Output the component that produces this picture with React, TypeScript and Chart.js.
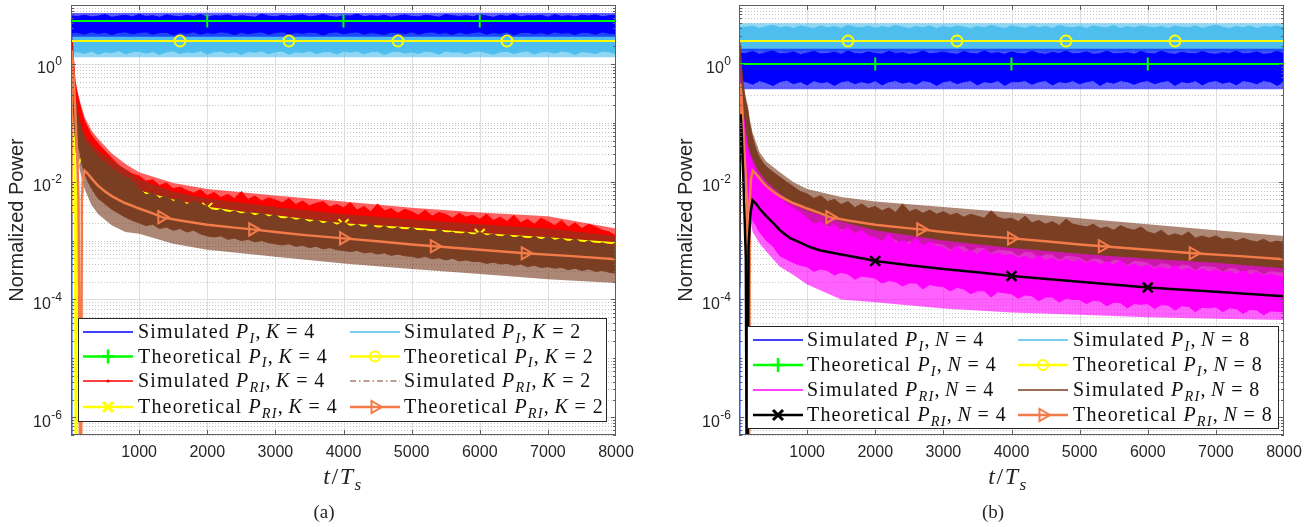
import React, { useEffect, useRef } from 'react';
import { Chart, registerables } from 'chart.js';

Chart.register(...registerables);

// ---------------- axes ----------------
const X_MIN = 0;
const X_MAX = 8000;
const Y_MIN = 5e-7;
const Y_MAX = 10;
const X_TICKS = [0, 1000, 2000, 3000, 4000, 5000, 6000, 7000, 8000];
const Y_MAJOR_EXP = [-6, -4, -2, 0];
const FLOOR = 1e-9; // power ~ 0 (below the axis)

// ---------------- time grids ----------------
const T_FLAT_HEAD = [0, 10];
const T_DEC_HEAD = [0, 10, 20, 30, 45, 60, 80, 100, 130, 160, 200, 250, 300, 350, 400, 500, 600, 700, 800, 900];
const T_FLAT_SPK = [10, 2000, 4000, 6000, 8000];
const T_DEC_SPK = [0, 10, 20, 30, 45, 60, 80, 100, 130, 160, 200, 300, 400, 600, 800, 1000, 1500, 2000, 3000, 4000, 5000, 6000, 7000, 8000];
const T_PI_THEORY = [0, 1600, 2000, 3200, 4000, 4800, 6000, 6400, 8000];
const T_OR_A = [0, 15, 30, 50, 70, 90, 110, 143, 160, 175, 200, 250, 300, 350, 400, 500, 600, 700, 800, 900, 1000, 1200, 1333, 1600, 2000, 2400, 2667, 3000, 3400, 4000, 4500, 5000, 5333, 6000, 6667, 7300, 8000];
const T_OR_B = [0, 20, 40, 60, 80, 100, 120, 143, 160, 175, 200, 250, 300, 350, 400, 500, 600, 700, 800, 900, 1000, 1200, 1333, 1600, 2000, 2400, 2667, 3000, 3400, 4000, 4500, 5000, 5333, 6000, 6667, 7300, 8000];
const T_YT_A = [0, 12, 25, 40, 55, 70, 85, 110, 140, 200, 300, 400, 600, 800, 1000, 1500, 2000, 2500, 3000, 3500, 4000, 5000, 6000, 7000, 8000];
const T_BK_B = [0, 15, 25, 40, 60, 80, 100, 120, 140, 170, 200, 250, 300, 400, 500, 600, 750, 900, 1050, 1200, 1500, 1800, 2000, 2500, 3000, 3500, 4000, 5000, 6000, 7000, 8000];

// marker positions
const MK_PLUS = [2000, 4000, 6000];
const MK_CIRC = [1600, 3200, 4800, 6400];
const MK_TRI = [1333, 2667, 4000, 5333, 6667];
const MK_X = [2000, 4000, 6000];

// ---------------- panel (a) values ----------------
const A_BLUE_UP = [FLOOR, 6.5,
  6.4, 6.7, 6.3, 6.5, 6.9, 6.2, 6.5, 6.7, 6.3, 6.9,
  6.4, 6.6, 6.2, 6.8, 6.5, 6.3, 6.7, 6.4, 6.9, 6.2,
  6.6, 6.5, 6.8, 6.3, 6.6, 6.4, 6.2, 7.0, 6.5, 6.3,
  6.7, 6.4, 6.6, 6.8, 6.3, 6.5, 6.9, 6.4, 6.2, 6.6,
  6.5, 7.0, 6.3, 6.6, 6.4, 6.7, 6.2, 6.5, 6.8, 6.4,
  6.3, 6.7, 6.5, 6.2, 6.9, 6.6, 6.4, 6.6, 6.3, 6.8,
  6.5, 6.2, 6.7, 6.4, 6.9, 6.3, 6.6, 6.5, 6.7, 6.2,
  6.9, 6.4, 6.6, 6.3, 6.7, 6.5, 6.8, 6.3, 6.6, 6.7];
const A_BLUE_LO = [FLOOR, 3.4,
  3.4, 3.2, 3.5, 3.3, 3.45, 3.15, 3.4, 3.5, 3.25, 3.4,
  3.5, 3.2, 3.4, 3.45, 3.1, 3.4, 3.3, 3.5, 3.2, 3.4,
  3.3, 3.5, 3.4, 3.15, 3.45, 3.25, 3.4, 3.5, 3.2, 3.4,
  3.5, 3.2, 3.4, 3.3, 3.45, 3.4, 3.1, 3.4, 3.5, 3.25,
  3.4, 3.5, 3.2, 3.4, 3.3, 3.15, 3.45, 3.4, 3.25, 3.5,
  3.2, 3.4, 3.5, 3.3, 3.4, 3.15, 3.45, 3.25, 3.4, 3.5,
  3.2, 3.4, 3.3, 3.5, 3.1, 3.4, 3.45, 3.25, 3.4, 3.2,
  3.5, 3.3, 3.4, 3.15, 3.45, 3.4, 3.2, 3.5, 3.3, 3.25];
const A_BLUE_SPK_UP = [7.3, 7.4, 7.3, 7.4, 7.3];
const A_BLUE_SPK_LO = [2.9, 2.9, 2.9, 2.9, 2.9];
const A_LBLUE_UP = [FLOOR, 4.0,
  4.0, 3.8, 4.2, 3.9, 4.1, 3.8, 4.0, 4.3, 3.9, 4.0,
  3.8, 4.1, 3.9, 4.2, 4.0, 3.8, 4.1, 3.9, 4.0, 4.2,
  3.9, 4.0, 3.8, 4.1, 4.2, 3.9, 4.0, 3.8, 4.1, 3.9,
  4.2, 3.9, 4.0, 3.8, 4.1, 4.0, 3.9, 4.3, 3.8, 4.0,
  4.1, 3.9, 4.0, 4.2, 3.8, 4.0, 4.1, 3.9, 4.2, 3.8,
  4.0, 4.1, 3.9, 4.0, 4.3, 3.8, 4.0, 4.1, 3.9, 4.0,
  3.8, 4.2, 4.0, 3.9, 4.1, 4.0, 3.8, 4.2, 3.9, 4.1,
  4.0, 3.9, 4.2, 3.8, 4.0, 4.1, 3.9, 4.0, 4.2, 3.9];
const A_LBLUE_LO = [FLOOR, 1.6,
  1.6, 1.5, 1.65, 1.46, 1.6, 1.55, 1.68, 1.48, 1.6, 1.64,
  1.52, 1.62, 1.45, 1.6, 1.66, 1.5, 1.6, 1.55, 1.67, 1.47,
  1.6, 1.64, 1.52, 1.6, 1.45, 1.62, 1.58, 1.66, 1.49, 1.6,
  1.65, 1.46, 1.6, 1.55, 1.67, 1.5, 1.6, 1.62, 1.47, 1.64,
  1.58, 1.66, 1.48, 1.6, 1.62, 1.45, 1.6, 1.65, 1.52, 1.6,
  1.5, 1.64, 1.6, 1.46, 1.66, 1.58, 1.6, 1.48, 1.62, 1.65,
  1.55, 1.46, 1.6, 1.64, 1.5, 1.6, 1.66, 1.47, 1.6, 1.62,
  1.52, 1.65, 1.6, 1.45, 1.62, 1.58, 1.5, 1.64, 1.6, 1.48];
const A_LBLUE_SPK_UP = [4.2, 4.2, 4.2, 4.2, 4.2];
const A_LBLUE_SPK_LO = [1.3, 1.3, 1.3, 1.3, 1.3];
const A_RED_UP = [
  2.0, 2.4, 2.2, 1.6, 0.9, 0.5, 0.36, 0.28, 0.2, 0.15, 0.105, 0.08, 0.062, 0.052, 0.044, 0.033, 0.025, 0.019, 0.016, 0.0135,
  0.0125, 0.0102, 0.0108, 0.0086, 0.0095, 0.0076, 0.0081, 0.0071, 0.0064, 0.0073,
  0.0058, 0.0066, 0.0054, 0.0061, 0.0052, 0.0068, 0.005, 0.0057, 0.0047, 0.0053,
  0.0049, 0.0044, 0.0052, 0.0041, 0.0047, 0.0039, 0.0043, 0.0046, 0.0037, 0.0041,
  0.0036, 0.0044, 0.0033, 0.0038, 0.0031, 0.0042, 0.0032, 0.0035, 0.0029, 0.0034,
  0.0031, 0.0027, 0.0033, 0.0026, 0.003, 0.0028, 0.0024, 0.0029, 0.0025, 0.0027,
  0.0023, 0.0028, 0.0022, 0.0025, 0.0021, 0.0027, 0.002, 0.0023, 0.0019, 0.0024,
  0.0021, 0.0018, 0.0022, 0.0017, 0.002, 0.0016, 0.0019, 0.0017, 0.0015, 0.0014,
  0.0012];
const A_RED_LO = [
  0.3, 0.8, 0.6, 0.35, 0.15, 0.09, 0.07, 0.06, 0.05, 0.035, 0.025, 0.018, 0.014, 0.011, 0.0095, 0.0075, 0.006, 0.005, 0.0043, 0.0038,
  0.0032, 0.0029, 0.0026, 0.0024, 0.0022, 0.0021, 0.002, 0.0019, 0.0018, 0.0017,
  0.00167, 0.0016, 0.00155, 0.0015, 0.0015, 0.00145, 0.0014, 0.0014, 0.00135, 0.0013,
  0.00126, 0.0012, 0.00118, 0.00115, 0.00112, 0.0011, 0.00106, 0.00103, 0.001, 0.00099,
  0.00098, 0.00096, 0.00094, 0.00092, 0.0009, 0.00087, 0.00085, 0.00083, 0.00081, 0.00079,
  0.00077, 0.00076, 0.00074, 0.00072, 0.00071, 0.0007, 0.00068, 0.00067, 0.00065, 0.00064,
  0.00063, 0.00062, 0.0006, 0.00059, 0.00058, 0.00057, 0.00056, 0.00055, 0.00054, 0.00053,
  0.00052, 0.00051, 0.0005, 0.0005, 0.00049, 0.00048, 0.00047, 0.00046, 0.00045, 0.00044,
  0.00043];
const A_RED_SPK_UP = [2.6, 2.8, 2.6, 1.9, 1.1, 0.6, 0.43, 0.33, 0.24, 0.18, 0.125, 0.075, 0.053, 0.03, 0.02, 0.0145, 0.0095, 0.0075, 0.0058, 0.0046, 0.0036, 0.003, 0.0026, 0.0016];
const A_RED_SPK_LO = [0.3, 0.8, 0.6, 0.35, 0.15, 0.09, 0.07, 0.06, 0.05, 0.035, 0.025, 0.014, 0.0095, 0.006, 0.0043, 0.0032, 0.0021, 0.00167, 0.00126, 0.00098, 0.00077, 0.00063, 0.00052, 0.00043];
const A_BROWN_UP = [
  1.5, 1.8, 1.4, 1.0, 0.5, 0.28, 0.18, 0.13, 0.095, 0.07, 0.05, 0.042, 0.036, 0.031, 0.026, 0.021, 0.017, 0.014, 0.012, 0.0102,
  0.0076, 0.006, 0.0065, 0.0052, 0.0058, 0.0046, 0.0052, 0.0041, 0.0047, 0.0042,
  0.0038, 0.0031, 0.0034, 0.0029, 0.0032, 0.0028, 0.0031, 0.0026, 0.003, 0.0025,
  0.0028, 0.0022, 0.0025, 0.0022, 0.0024, 0.002, 0.0023, 0.0019, 0.0022, 0.0018,
  0.0021, 0.0017, 0.0019, 0.0016, 0.002, 0.0015, 0.0018, 0.0015, 0.0017, 0.0014,
  0.0017, 0.0014, 0.0015, 0.0013, 0.0016, 0.0013, 0.0014, 0.0012, 0.0014, 0.0012,
  0.0014, 0.0012, 0.0013, 0.0011, 0.0013, 0.0011, 0.0012, 0.001, 0.0012, 0.001,
  0.0012, 0.001, 0.0011, 0.00092, 0.0011, 0.00088, 0.001, 0.00085, 0.00092, 0.00083,
  0.00077];
const A_BROWN_LO = [
  0.2, 0.5, 0.4, 0.25, 0.1, 0.06, 0.045, 0.04, 0.032, 0.02, 0.014, 0.01, 0.0078, 0.0063, 0.0052, 0.0042, 0.0034, 0.0029, 0.0025, 0.0022,
  0.002, 0.0018, 0.0019, 0.0016, 0.0017, 0.0015, 0.0016, 0.0014, 0.0015, 0.0013,
  0.0012, 0.00115, 0.0012, 0.00105, 0.0011, 0.001, 0.00105, 0.00095, 0.001, 0.00092,
  0.00088, 0.00084, 0.00088, 0.0008, 0.00083, 0.00076, 0.0008, 0.00072, 0.00076, 0.0007,
  0.00068, 0.00065, 0.00068, 0.00062, 0.00064, 0.00059, 0.00062, 0.00056, 0.00059, 0.00055,
  0.00054, 0.00051, 0.00054, 0.00049, 0.00051, 0.00047, 0.0005, 0.00045, 0.00047, 0.00044,
  0.00044, 0.00041, 0.00043, 0.0004, 0.00041, 0.00038, 0.0004, 0.00036, 0.00038, 0.00035,
  0.00036, 0.00034, 0.00035, 0.00032, 0.00034, 0.00031, 0.00033, 0.0003, 0.00031, 0.00029,
  0.00028];
const A_BROWN_SPK_UP = [1.9, 2.2, 1.7, 1.2, 0.6, 0.34, 0.22, 0.16, 0.115, 0.085, 0.062, 0.045, 0.034, 0.023, 0.016, 0.011, 0.0068, 0.0052, 0.0037, 0.0028, 0.0023, 0.0019, 0.0016, 0.0012];
const A_BROWN_SPK_LO = [0.12, 0.3, 0.25, 0.15, 0.06, 0.035, 0.026, 0.022, 0.016, 0.011, 0.0075, 0.004, 0.0028, 0.0018, 0.0014, 0.0013, 0.00088, 0.0007, 0.00053, 0.00041, 0.00033, 0.00027, 0.00022, 0.00019];
const A_TH_PI_K4 = [5.35, 5.35, 5.35, 5.35, 5.35, 5.35, 5.35, 5.35, 5.35];
const A_TH_PI_K2 = [2.45, 2.45, 2.45, 2.45, 2.45, 2.45, 2.45, 2.45, 2.45];
const A_TH_PRI_K4 = [0.003, 1.0, 0.5, 0.1, 0.01, FLOOR, 0.008, 0.02, 0.024, 0.021, 0.017, 0.014, 0.0105, 0.0083, 0.0068, 0.0048, 0.0036, 0.003, 0.0026, 0.0022, 0.0019, 0.0016, 0.0013, 0.0011, 0.0009];
const A_TH_PRI_K2 = [0.001, 1.7, 0.9, 0.35, 0.1, 0.03, 0.005, FLOOR, 0.005, 0.011, 0.0154, 0.0135, 0.0115, 0.0098, 0.0085, 0.0068, 0.0057, 0.0049, 0.0043, 0.0039, 0.0035, 0.0029, 0.0025, 0.0022, 0.00185, 0.00166, 0.00155, 0.0014, 0.00125, 0.00109, 0.00097, 0.00086, 0.0008, 0.0007, 0.00061, 0.00055, 0.00048];

// ---------------- panel (b) values ----------------
const B_LBLUE_UP = [FLOOR, 4.2,
  4.2, 4.4, 4.0, 4.3, 4.5, 4.1, 4.3, 4.0, 4.4, 4.2,
  4.0, 4.4, 4.1, 4.3, 4.0, 4.5, 4.2, 4.1, 4.4, 4.0,
  4.3, 4.1, 4.5, 4.2, 4.0, 4.3, 4.1, 4.4, 4.0, 4.3,
  4.1, 4.4, 4.2, 4.0, 4.3, 4.1, 4.5, 4.2, 4.0, 4.4,
  4.2, 4.0, 4.4, 4.1, 4.3, 4.0, 4.5, 4.2, 4.1, 4.3,
  4.0, 4.4, 4.2, 4.1, 4.5, 4.0, 4.3, 4.1, 4.4, 4.2,
  4.1, 4.3, 4.0, 4.4, 4.2, 4.1, 4.4, 4.0, 4.3, 4.5,
  4.2, 4.0, 4.3, 4.1, 4.4, 4.0, 4.3, 4.2, 4.4, 4.1];
const B_LBLUE_LO = [FLOOR, 1.72,
  1.72, 1.64, 1.75, 1.6, 1.7, 1.74, 1.62, 1.72, 1.68, 1.76,
  1.62, 1.72, 1.7, 1.65, 1.75, 1.6, 1.72, 1.7, 1.74, 1.64,
  1.72, 1.68, 1.61, 1.74, 1.7, 1.72, 1.64, 1.75, 1.7, 1.6,
  1.72, 1.74, 1.65, 1.7, 1.72, 1.62, 1.74, 1.7, 1.68, 1.75,
  1.63, 1.72, 1.7, 1.74, 1.6, 1.72, 1.7, 1.66, 1.75, 1.7,
  1.72, 1.62, 1.74, 1.7, 1.72, 1.65, 1.7, 1.75, 1.6, 1.72,
  1.7, 1.74, 1.64, 1.72, 1.7, 1.75, 1.62, 1.72, 1.7, 1.67,
  1.74, 1.7, 1.6, 1.72, 1.75, 1.65, 1.7, 1.72, 1.63, 1.74];
const B_LBLUE_SPK_UP = [4.9, 4.9, 4.9, 4.9, 4.9];
const B_LBLUE_SPK_LO = [1.55, 1.55, 1.55, 1.55, 1.55];
const B_BLUE_UP = [FLOOR, 1.5,
  1.5, 1.62, 1.46, 1.55, 1.65, 1.48, 1.5, 1.6, 1.45, 1.52,
  1.63, 1.48, 1.5, 1.58, 1.46, 1.65, 1.5, 1.48, 1.6, 1.5,
  1.47, 1.63, 1.5, 1.55, 1.46, 1.5, 1.65, 1.48, 1.52, 1.58,
  1.5, 1.46, 1.62, 1.5, 1.48, 1.65, 1.5, 1.55, 1.46, 1.6,
  1.5, 1.48, 1.64, 1.5, 1.46, 1.57, 1.5, 1.65, 1.48, 1.5,
  1.6, 1.46, 1.5, 1.64, 1.48, 1.5, 1.55, 1.46, 1.62, 1.5,
  1.48, 1.65, 1.5, 1.46, 1.58, 1.5, 1.48, 1.63, 1.5, 1.46,
  1.55, 1.5, 1.64, 1.48, 1.5, 1.6, 1.46, 1.5, 1.63, 1.48];
const B_BLUE_LO = [FLOOR, 0.5,
  0.5, 0.45, 0.52, 0.48, 0.43, 0.5, 0.53, 0.46, 0.5, 0.44,
  0.52, 0.48, 0.5, 0.43, 0.5, 0.52, 0.46, 0.5, 0.47, 0.52,
  0.44, 0.5, 0.52, 0.47, 0.5, 0.45, 0.52, 0.5, 0.43, 0.5,
  0.52, 0.46, 0.5, 0.52, 0.44, 0.5, 0.48, 0.52, 0.43, 0.5,
  0.5, 0.52, 0.45, 0.5, 0.52, 0.44, 0.5, 0.48, 0.52, 0.46,
  0.5, 0.52, 0.43, 0.5, 0.47, 0.52, 0.5, 0.45, 0.5, 0.52,
  0.46, 0.5, 0.52, 0.43, 0.5, 0.48, 0.52, 0.44, 0.5, 0.52,
  0.47, 0.5, 0.44, 0.52, 0.5, 0.46, 0.52, 0.5, 0.43, 0.5];
const B_BLUE_SPK_UP = [1.8, 1.8, 1.8, 1.8, 1.8];
const B_BLUE_SPK_LO = [0.37, 0.37, 0.37, 0.37, 0.37];
const B_BROWN_UP = [
  2.0, 2.3, 1.8, 1.2, 0.7, 0.45, 0.3, 0.22, 0.16, 0.09, 0.055, 0.035, 0.026, 0.021, 0.018, 0.0145, 0.012, 0.0098, 0.0082, 0.0068,
  0.0062, 0.0052, 0.0058, 0.0046, 0.005, 0.0041, 0.0046, 0.0036, 0.0042, 0.0035,
  0.0038, 0.0032, 0.0036, 0.003, 0.0042, 0.0031, 0.0034, 0.0029, 0.0033, 0.0028,
  0.0031, 0.0027, 0.0029, 0.0025, 0.0028, 0.0026, 0.0024, 0.0032, 0.0025, 0.0023,
  0.0024, 0.0021, 0.0026, 0.002, 0.0022, 0.0019, 0.0021, 0.0018, 0.0023, 0.0019,
  0.0018, 0.0017, 0.0019, 0.0016, 0.0017, 0.0015, 0.0018, 0.0016, 0.0015, 0.0017,
  0.0014, 0.0013, 0.0015, 0.0012, 0.0013, 0.0012, 0.0014, 0.0011, 0.0012, 0.0011,
  0.0012, 0.00105, 0.0011, 0.00098, 0.0011, 0.001, 0.00095, 0.00105, 0.00092, 0.00098,
  0.0009];
const B_BROWN_LO = [
  0.3, 0.7, 0.6, 0.4, 0.2, 0.1, 0.06, 0.04, 0.025, 0.018, 0.013, 0.01, 0.0085, 0.0072, 0.0062, 0.0048, 0.004, 0.0034, 0.003, 0.0026,
  0.0021, 0.0018, 0.0019, 0.0018, 0.0015, 0.0016, 0.0015, 0.0013, 0.0013, 0.0012,
  0.00115, 0.00098, 0.0011, 0.00105, 0.00088, 0.001, 0.00098, 0.00082, 0.00093, 0.0009,
  0.00087, 0.00072, 0.00084, 0.00082, 0.00066, 0.00078, 0.00076, 0.00062, 0.00072, 0.0007,
  0.00068, 0.00056, 0.00066, 0.00064, 0.00052, 0.0006, 0.00059, 0.00048, 0.00056, 0.00055,
  0.00053, 0.00044, 0.00051, 0.0005, 0.00041, 0.00048, 0.00047, 0.00039, 0.00046, 0.00045,
  0.00043, 0.00036, 0.00042, 0.00041, 0.00034, 0.0004, 0.00039, 0.00032, 0.00038, 0.00037,
  0.00036, 0.0003, 0.00035, 0.00034, 0.00028, 0.00033, 0.00032, 0.00027, 0.00031, 0.0003,
  0.00029];
const B_BROWN_SPK_UP = [2.5, 2.8, 2.2, 1.5, 0.85, 0.55, 0.37, 0.27, 0.2, 0.11, 0.068, 0.032, 0.022, 0.0145, 0.0098, 0.0075, 0.0055, 0.0046, 0.0037, 0.003, 0.0024, 0.0019, 0.0015, 0.0012];
const B_BROWN_SPK_LO = [0.15, 0.4, 0.35, 0.22, 0.1, 0.05, 0.03, 0.02, 0.013, 0.009, 0.0065, 0.0042, 0.003, 0.002, 0.0015, 0.0012, 0.00082, 0.00065, 0.00049, 0.00038, 0.0003, 0.00025, 0.0002, 0.00017];
const B_MAG_UP = [
  1.0, 0.6, 0.45, 0.35, 0.22, 0.15, 0.09, 0.06, 0.035, 0.027, 0.02, 0.015, 0.012, 0.0098, 0.0085, 0.0068, 0.0052, 0.0042, 0.0035, 0.003,
  0.0024, 0.0019, 0.0021, 0.0016, 0.0019, 0.0014, 0.0017, 0.0013, 0.0015, 0.0012,
  0.0011, 0.00095, 0.0013, 0.0009, 0.001, 0.00085, 0.0011, 0.00082, 0.00095, 0.0008,
  0.00076, 0.00065, 0.0008, 0.00062, 0.00068, 0.00058, 0.00072, 0.00056, 0.00062, 0.00055,
  0.00058, 0.0005, 0.00054, 0.00047, 0.00056, 0.00046, 0.0005, 0.00044, 0.00048, 0.00043,
  0.00047, 0.00041, 0.00045, 0.00039, 0.00044, 0.00038, 0.00046, 0.00036, 0.0004, 0.00035,
  0.00038, 0.00033, 0.00036, 0.00032, 0.00038, 0.00031, 0.00034, 0.0003, 0.00033, 0.00029,
  0.00032, 0.00028, 0.0003, 0.00027, 0.00031, 0.00026, 0.00029, 0.00025, 0.00027, 0.00025,
  0.00024];
const B_MAG_LO = [
  0.05, 0.15, 0.12, 0.07, 0.03, 0.02, 0.014, 0.01, 0.006, 0.004, 0.0022, 0.0018, 0.0014, 0.0012, 0.001, 0.0008, 0.00055, 0.00048, 0.00042, 0.00038,
  0.00036, 0.0003, 0.00033, 0.00031, 0.00026, 0.00029, 0.00027, 0.00022, 0.00025, 0.00024,
  0.00023, 0.00019, 0.00021, 0.0002, 0.00017, 0.00019, 0.00019, 0.00015, 0.00018, 0.00017,
  0.000165, 0.00014, 0.00016, 0.00015, 0.000125, 0.00014, 0.00014, 0.00011, 0.000135, 0.00013,
  0.000125, 0.000105, 0.00012, 0.000115, 0.000095, 0.00011, 0.00011, 0.00009, 0.000105, 0.0001,
  0.0001, 0.000085, 0.000097, 0.000094, 0.000078, 0.00009, 0.000088, 0.000072, 0.000085, 0.000083,
  0.000085, 0.00007, 0.000082, 0.00008, 0.000066, 0.000078, 0.000076, 0.000062, 0.000074, 0.000072,
  0.000075, 0.000062, 0.000072, 0.00007, 0.000058, 0.000068, 0.000066, 0.000055, 0.000064, 0.000063,
  0.000062];
const B_MAG_SPK_UP = [1.2, 0.75, 0.55, 0.42, 0.27, 0.18, 0.11, 0.072, 0.042, 0.032, 0.024, 0.0145, 0.0102, 0.0063, 0.0042, 0.0032, 0.0021, 0.0015, 0.001, 0.00075, 0.0006, 0.00049, 0.00042, 0.00034];
const B_MAG_SPK_LO = [0.03, 0.09, 0.07, 0.04, 0.018, 0.011, 0.008, 0.006, 0.0035, 0.0024, 0.0014, 0.0009, 0.00065, 0.00036, 0.00026, 0.00018, 0.0001, 0.00009, 0.00007, 0.00006, 0.000055, 0.00005, 0.000047, 0.000045];
const B_TH_PI_N4 = [1.0, 1.0, 1.0, 1.0, 1.0, 1.0, 1.0, 1.0, 1.0];
const B_TH_PI_N8 = [2.45, 2.45, 2.45, 2.45, 2.45, 2.45, 2.45, 2.45, 2.45];
const B_TH_PRI_N4 = [0.00016, 0.1, 0.14, 0.06, 0.015, 0.003, 0.0005, FLOOR, 0.0008, 0.003, 0.0048, 0.0042, 0.0035, 0.0026, 0.002, 0.0015, 0.0011, 0.00092, 0.00077, 0.00068, 0.00058, 0.0005, 0.00045, 0.00038, 0.00033, 0.00029, 0.00025, 0.0002, 0.00016, 0.000135, 0.000113];
const B_TH_PRI_N8 = [0.001, 0.46, 0.25, 0.08, 0.03, 0.012, 0.004, FLOOR, 0.005, 0.011, 0.0154, 0.0135, 0.0115, 0.0098, 0.0085, 0.0068, 0.0057, 0.0049, 0.0043, 0.0039, 0.0035, 0.0029, 0.0025, 0.0022, 0.00185, 0.00166, 0.00155, 0.0014, 0.00125, 0.00109, 0.00097, 0.00086, 0.0008, 0.0007, 0.00061, 0.00055, 0.00048];

// ---------------- styles ----------------
const C_BLUE = '#0000FF';
const C_LBLUE = '#4DBEEE';
const C_GREEN = '#00FF00';
const C_YELLOW = '#FFFF00';
const C_RED = '#FF0000';
const C_BROWN = '#7A3E22';
const C_ORANGE = '#F37B4A';
const C_MAGENTA = '#FF00FF';
const C_BLACK = '#000000';
const TXT = '#262626';
const SANS = '"Liberation Sans", Arial, Helvetica, sans-serif';
const SERIF = '"Liberation Serif", "Times New Roman", serif';
const FRINGE_ALPHA = 0.62;

const hexA = (hex: string, a: number) => {
  const n = parseInt(hex.slice(1), 16);
  return `rgba(${(n >> 16) & 255},${(n >> 8) & 255},${n & 255},${a})`;
};

const tFlat = [...T_FLAT_HEAD, ...Array.from({ length: 80 }, (_, i) => (i + 1) * 100)];
const tDec = [...T_DEC_HEAD, ...Array.from({ length: 71 }, (_, i) => 1000 + i * 100)];
const pts = (ts: number[], vs: number[]) => vs.map((v, i) => ({ x: ts[i], y: v }));

// a noisy simulated curve: a dense core between its bulk envelopes, plus a lighter spike fringe
const band = (label: string, ts: number[], up: number[], lo: number[], tsS: number[], upS: number[], loS: number[], color: string, layer: number) => [
  { label: label + ' (spike max)', data: pts(tsS, upS), borderWidth: 0, borderColor: 'rgba(0,0,0,0)', backgroundColor: hexA(color, FRINGE_ALPHA), pointRadius: 0, fill: false, order: 100.5 - layer },
  { label: label + ' (spike min)', data: pts(tsS, loS), borderWidth: 0, borderColor: 'rgba(0,0,0,0)', backgroundColor: hexA(color, FRINGE_ALPHA), pointRadius: 0, fill: '-1', order: 100.5 - layer },
  { label: label + ' (upper)', data: pts(ts, up), borderColor: color, backgroundColor: color, borderWidth: 1, pointRadius: 0, fill: false, order: 100 - layer },
  { label, data: pts(ts, lo), borderColor: color, backgroundColor: color, borderWidth: 1, pointRadius: 0, fill: '-1', order: 100 - layer },
];

type Mk = { style: string; at: number[]; r: number; w: number; rot?: number };
const theory = (label: string, ts: number[], vs: number[], color: string, width: number, mk: Mk, layer: number) => ({
  label,
  data: pts(ts, vs),
  borderColor: color,
  backgroundColor: color,
  borderWidth: width,
  fill: false,
  order: 100 - layer,
  pointStyle: mk.style,
  rotation: mk.rot || 0,
  pointRadius: (c: any) => (c.raw && mk.at.includes(c.raw.x) ? mk.r : 0),
  pointHoverRadius: 0,
  pointBorderColor: color,
  pointBackgroundColor: 'rgba(0,0,0,0)',
  pointBorderWidth: mk.w,
});

// ---------------- legend ----------------
type LegItem = { color: string; width: number; dash?: number[]; marker?: string; pre: string; sub: string; par: string; val: string };
const LEG_A: LegItem[] = [
  { color: C_BLUE, width: 1.5, pre: 'Simulated', sub: 'I', par: 'K', val: '4' },
  { color: C_LBLUE, width: 1.5, pre: 'Simulated', sub: 'I', par: 'K', val: '2' },
  { color: C_GREEN, width: 2.5, marker: 'plus', pre: 'Theoretical', sub: 'I', par: 'K', val: '4' },
  { color: C_YELLOW, width: 2.5, marker: 'circle', pre: 'Theoretical', sub: 'I', par: 'K', val: '2' },
  { color: C_RED, width: 1.5, marker: 'dot', pre: 'Simulated', sub: 'RI', par: 'K', val: '4' },
  { color: C_BROWN, width: 1, dash: [6, 3, 1.5, 3], pre: 'Simulated', sub: 'RI', par: 'K', val: '2' },
  { color: C_YELLOW, width: 2.5, marker: 'x', pre: 'Theoretical', sub: 'RI', par: 'K', val: '4' },
  { color: C_ORANGE, width: 2.5, marker: 'tri', pre: 'Theoretical', sub: 'RI', par: 'K', val: '2' },
];
const LEG_B: LegItem[] = [
  { color: C_BLUE, width: 1.5, pre: 'Simulated', sub: 'I', par: 'N', val: '4' },
  { color: C_LBLUE, width: 1.5, pre: 'Simulated', sub: 'I', par: 'N', val: '8' },
  { color: C_GREEN, width: 2.5, marker: 'plus', pre: 'Theoretical', sub: 'I', par: 'N', val: '4' },
  { color: C_YELLOW, width: 2.5, marker: 'circle', pre: 'Theoretical', sub: 'I', par: 'N', val: '8' },
  { color: C_MAGENTA, width: 1.5, pre: 'Simulated', sub: 'RI', par: 'N', val: '4' },
  { color: C_BROWN, width: 1.5, pre: 'Simulated', sub: 'RI', par: 'N', val: '8' },
  { color: C_BLACK, width: 2.5, marker: 'x', pre: 'Theoretical', sub: 'RI', par: 'N', val: '4' },
  { color: C_ORANGE, width: 2.5, marker: 'tri', pre: 'Theoretical', sub: 'RI', par: 'N', val: '8' },
];

type PanelCfg = {
  left: number; w: number; padRight: number; yAxisW: number;
  yLabelRight: number; yTitleX: number; xTitleX: number; capX: number; caption: string;
  legBox: [number, number, number, number]; legRows: number[]; legLine: [number, number][]; legText: number[];
  legend: LegItem[]; datasets: any[];
};

const PANEL_A: PanelCfg = {
  left: 0, w: 660, padRight: 44, yAxisW: 71,
  yLabelRight: 62, yTitleX: 17.5, xTitleX: 343, capX: 324, caption: '(a)',
  legBox: [78, 318, 607, 422], legRows: [332, 356.5, 381, 407], legLine: [[83, 133], [350, 400]], legText: [138, 404],
  legend: LEG_A,
  datasets: [
    ...band('Simulated P_I, K = 2', tFlat, A_LBLUE_UP, A_LBLUE_LO, T_FLAT_SPK, A_LBLUE_SPK_UP, A_LBLUE_SPK_LO, C_LBLUE, 0),
    ...band('Simulated P_I, K = 4', tFlat, A_BLUE_UP, A_BLUE_LO, T_FLAT_SPK, A_BLUE_SPK_UP, A_BLUE_SPK_LO, C_BLUE, 1),
    ...band('Simulated P_RI, K = 4', tDec, A_RED_UP, A_RED_LO, T_DEC_SPK, A_RED_SPK_UP, A_RED_SPK_LO, C_RED, 2),
    // between the brown spike fringe and the brown core
    theory('Theoretical P_RI, K = 4', T_YT_A, A_TH_PRI_K4, C_YELLOW, 2, { style: 'crossRot', at: MK_X, r: 7, w: 2 }, 3.7),
    ...band('Simulated P_RI, K = 2', tDec, A_BROWN_UP, A_BROWN_LO, T_DEC_SPK, A_BROWN_SPK_UP, A_BROWN_SPK_LO, C_BROWN, 4),
    theory('Theoretical P_RI, K = 2', T_OR_A, A_TH_PRI_K2, C_ORANGE, 2.5, { style: 'triangle', rot: 90, at: MK_TRI, r: 7, w: 2 }, 5),
    theory('Theoretical P_I, K = 4', T_PI_THEORY, A_TH_PI_K4, C_GREEN, 2, { style: 'cross', at: MK_PLUS, r: 6.5, w: 2 }, 6),
    theory('Theoretical P_I, K = 2', T_PI_THEORY, A_TH_PI_K2, C_YELLOW, 2, { style: 'circle', at: MK_CIRC, r: 5.5, w: 2 }, 7),
  ],
};

const PANEL_B: PanelCfg = {
  left: 660, w: 655, padRight: 31, yAxisW: 79,
  yLabelRight: 71, yTitleX: 26.5, xTitleX: 348, capX: 333, caption: '(b)',
  legBox: [87, 326, 619, 429], legRows: [340, 365, 390, 415], legLine: [[93, 143], [358, 408]], legText: [147, 413],
  legend: LEG_B,
  datasets: [
    ...band('Simulated P_I, N = 8', tFlat, B_LBLUE_UP, B_LBLUE_LO, T_FLAT_SPK, B_LBLUE_SPK_UP, B_LBLUE_SPK_LO, C_LBLUE, 0),
    ...band('Simulated P_I, N = 4', tFlat, B_BLUE_UP, B_BLUE_LO, T_FLAT_SPK, B_BLUE_SPK_UP, B_BLUE_SPK_LO, C_BLUE, 1),
    ...band('Simulated P_RI, N = 8', tDec, B_BROWN_UP, B_BROWN_LO, T_DEC_SPK, B_BROWN_SPK_UP, B_BROWN_SPK_LO, C_BROWN, 2),
    ...band('Simulated P_RI, N = 4', tDec, B_MAG_UP, B_MAG_LO, T_DEC_SPK, B_MAG_SPK_UP, B_MAG_SPK_LO, C_MAGENTA, 3),
    theory('Theoretical P_RI, N = 8', T_OR_B, B_TH_PRI_N8, C_ORANGE, 2.5, { style: 'triangle', rot: 90, at: MK_TRI, r: 7, w: 2 }, 4),
    theory('Theoretical P_RI, N = 4', T_BK_B, B_TH_PRI_N4, C_BLACK, 2.5, { style: 'crossRot', at: MK_X, r: 7, w: 2.5 }, 5),
    theory('Theoretical P_I, N = 4', T_PI_THEORY, B_TH_PI_N4, C_GREEN, 2, { style: 'cross', at: MK_PLUS, r: 6.5, w: 2 }, 6),
    theory('Theoretical P_I, N = 8', T_PI_THEORY, B_TH_PI_N8, C_YELLOW, 2, { style: 'circle', at: MK_CIRC, r: 5.5, w: 2 }, 7),
  ],
};

// ---------------- drawing helpers ----------------
type Seg = { t?: string; it?: boolean; sub?: boolean; gap?: number };
function richWidth(ctx: CanvasRenderingContext2D, segs: Seg[], size: number) {
  let w = 0;
  for (const s of segs) {
    if (s.gap) { w += s.gap * size; continue; }
    const fs = s.sub ? size * 0.72 : size;
    ctx.font = `${s.it ? 'italic ' : ''}${fs}px ${SERIF}`;
    w += ctx.measureText(s.t || '').width;
  }
  return w;
}
function drawRich(ctx: CanvasRenderingContext2D, x: number, y: number, segs: Seg[], size: number) {
  let cx = x;
  for (const s of segs) {
    if (s.gap) { cx += s.gap * size; continue; }
    const fs = s.sub ? size * 0.72 : size;
    ctx.font = `${s.it ? 'italic ' : ''}${fs}px ${SERIF}`;
    ctx.fillText(s.t || '', cx, s.sub ? y + size * 0.24 : y);
    cx += ctx.measureText(s.t || '').width;
  }
}
function legendSegs(it: LegItem): Seg[] {
  return [
    { t: it.pre + ' ' },
    { t: 'P', it: true },
    { t: it.sub, it: true, sub: true },
    { t: ',' },
    { gap: 0.22 },
    { t: it.par, it: true },
    { gap: 0.28 },
    { t: '=' },
    { gap: 0.28 },
    { t: it.val },
  ];
}
function drawMarker(ctx: CanvasRenderingContext2D, m: string, x: number, y: number, color: string) {
  ctx.save();
  ctx.strokeStyle = color;
  ctx.fillStyle = color;
  ctx.setLineDash([]);
  ctx.beginPath();
  if (m === 'plus') {
    ctx.lineWidth = 2.5;
    ctx.moveTo(x - 7, y); ctx.lineTo(x + 7, y); ctx.moveTo(x, y - 7); ctx.lineTo(x, y + 7); ctx.stroke();
  } else if (m === 'circle') {
    ctx.lineWidth = 2;
    ctx.arc(x, y, 5, 0, Math.PI * 2); ctx.stroke();
  } else if (m === 'x') {
    ctx.lineWidth = 3;
    ctx.moveTo(x - 5, y - 5); ctx.lineTo(x + 5, y + 5); ctx.moveTo(x + 5, y - 5); ctx.lineTo(x - 5, y + 5); ctx.stroke();
  } else if (m === 'tri') {
    ctx.lineWidth = 2;
    ctx.moveTo(x + 7, y); ctx.lineTo(x - 3.5, y - 6); ctx.lineTo(x - 3.5, y + 6); ctx.closePath(); ctx.stroke();
  } else if (m === 'dot') {
    ctx.arc(x, y, 1.5, 0, Math.PI * 2); ctx.fill();
  }
  ctx.restore();
}

function makeDecor(p: PanelCfg) {
  return {
    id: 'decor',
    beforeDatasetsDraw(chart: any) {
      const { ctx, chartArea: a, scales } = chart;
      const xs = scales.x;
      const ys = scales.y;
      ctx.save();
      ctx.lineWidth = 1;
      ctx.strokeStyle = '#C6C6C6';
      ctx.setLineDash([1, 2]);
      for (let e = -7; e <= 1; e++) {
        for (let k = 1; k <= 9; k++) {
          const v = k * Math.pow(10, e);
          if (v < Y_MIN || v > Y_MAX) continue;
          if (k === 1 && Y_MAJOR_EXP.includes(e)) continue;
          const py = Math.round(ys.getPixelForValue(v)) + 0.5;
          ctx.beginPath(); ctx.moveTo(a.left, py); ctx.lineTo(a.right, py); ctx.stroke();
        }
      }
      ctx.setLineDash([]);
      ctx.strokeStyle = '#DEDEDE';
      for (const t of X_TICKS) {
        if (t <= X_MIN || t >= X_MAX) continue;
        const px = Math.round(xs.getPixelForValue(t)) + 0.5;
        ctx.beginPath(); ctx.moveTo(px, a.top); ctx.lineTo(px, a.bottom); ctx.stroke();
      }
      for (const e of Y_MAJOR_EXP) {
        const py = Math.round(ys.getPixelForValue(Math.pow(10, e))) + 0.5;
        ctx.beginPath(); ctx.moveTo(a.left, py); ctx.lineTo(a.right, py); ctx.stroke();
      }
      ctx.restore();
    },
    afterDatasetsDraw(chart: any) {
      const { ctx, chartArea: a, scales } = chart;
      const xs = scales.x;
      const ys = scales.y;
      ctx.save();
      ctx.strokeStyle = '#5E5E5E';
      ctx.lineWidth = 1;
      ctx.strokeRect(Math.round(a.left) + 0.5, Math.round(a.top) + 0.5, Math.round(a.right - a.left) - 1, Math.round(a.bottom - a.top) - 1);
      ctx.beginPath();
      for (const t of X_TICKS) {
        if (t <= X_MIN || t >= X_MAX) continue;
        const px = Math.round(xs.getPixelForValue(t)) + 0.5;
        ctx.moveTo(px, a.bottom); ctx.lineTo(px, a.bottom - 5);
        ctx.moveTo(px, a.top); ctx.lineTo(px, a.top + 5);
      }
      for (let e = -7; e <= 1; e++) {
        for (let k = 1; k <= 9; k++) {
          const v = k * Math.pow(10, e);
          if (v < Y_MIN || v > Y_MAX) continue;
          const len = k === 1 && Y_MAJOR_EXP.includes(e) ? 5 : 3;
          const py = Math.round(ys.getPixelForValue(v)) + 0.5;
          ctx.moveTo(a.left, py); ctx.lineTo(a.left + len, py);
          ctx.moveTo(a.right, py); ctx.lineTo(a.right - len, py);
        }
      }
      ctx.stroke();
      ctx.restore();
    },
    afterDraw(chart: any) {
      const { ctx, chartArea: a, scales } = chart;
      const ys = scales.y;
      ctx.save();
      ctx.fillStyle = TXT;
      ctx.textAlign = 'left';
      ctx.textBaseline = 'alphabetic';
      // y tick labels 10^e
      for (const e of Y_MAJOR_EXP) {
        const py = ys.getPixelForValue(Math.pow(10, e));
        const base = '10';
        const exp = String(e);
        ctx.font = `16px ${SANS}`;
        const wb = ctx.measureText(base).width;
        ctx.font = `12px ${SANS}`;
        const we = ctx.measureText(exp).width;
        const x0 = p.yLabelRight - wb - we - 0.5;
        ctx.font = `16px ${SANS}`;
        ctx.fillText(base, x0, py + 9.5);
        ctx.font = `12px ${SANS}`;
        ctx.fillText(exp, x0 + wb + 0.5, py + 1.5);
      }
      // y title
      ctx.save();
      ctx.translate(p.yTitleX, (a.top + a.bottom) / 2);
      ctx.rotate(-Math.PI / 2);
      ctx.textAlign = 'center';
      ctx.textBaseline = 'middle';
      ctx.font = `20px ${SANS}`;
      ctx.fillText('Normalized Power', 0, 0);
      ctx.restore();
      // x title t/T_s
      const xt: Seg[] = [{ t: 't', it: true }, { t: '/' }, { t: 'T', it: true }, { t: 's', it: true, sub: true }];
      (ctx as any).letterSpacing = '1.5px';
      const wx = richWidth(ctx, xt, 24);
      drawRich(ctx, p.xTitleX - wx / 2, 484, xt, 24);
      (ctx as any).letterSpacing = '0px';
      // caption
      ctx.font = `19px ${SERIF}`;
      ctx.textAlign = 'center';
      ctx.fillText(p.caption, p.capX, 518);
      ctx.textAlign = 'left';
      // legend
      const [x1, y1, x2, y2] = p.legBox;
      ctx.fillStyle = '#FFFFFF';
      ctx.fillRect(x1, y1, x2 - x1, y2 - y1);
      ctx.strokeStyle = '#262626';
      ctx.lineWidth = 1;
      ctx.strokeRect(x1 + 0.5, y1 + 0.5, x2 - x1 - 1, y2 - y1 - 1);
      p.legend.forEach((it, i) => {
        const col = i % 2;
        const row = Math.floor(i / 2);
        const y = p.legRows[row];
        const [lx1, lx2] = p.legLine[col];
        ctx.save();
        ctx.strokeStyle = it.color;
        ctx.lineWidth = it.width;
        ctx.setLineDash(it.dash || []);
        ctx.beginPath(); ctx.moveTo(lx1, y); ctx.lineTo(lx2, y); ctx.stroke();
        ctx.restore();
        if (it.marker) drawMarker(ctx, it.marker, (lx1 + lx2) / 2, y, it.color);
        ctx.fillStyle = '#111111';
        (ctx as any).letterSpacing = '1.2px';
        drawRich(ctx, p.legText[col], y + 6, legendSegs(it), 20);
        (ctx as any).letterSpacing = '0px';
      });
      ctx.restore();
    },
  };
}

function buildConfig(p: PanelCfg): any {
  return {
    type: 'line',
    data: { datasets: p.datasets },
    options: {
      responsive: false,
      animation: false,
      devicePixelRatio: 1,
      events: [],
      layout: { padding: { left: 0, right: p.padRight, top: 5, bottom: 0 } },
      plugins: { legend: { display: false }, tooltip: { enabled: false }, title: { display: false } },
      elements: { line: { tension: 0 }, point: { radius: 0, hoverRadius: 0 } },
      scales: {
        x: {
          type: 'linear', min: X_MIN, max: X_MAX,
          afterFit: (s: any) => { s.height = 92; },
          grid: { display: false, drawTicks: false },
          border: { display: false },
          ticks: {
            stepSize: 1000, autoSkip: false, maxRotation: 0, padding: 8, color: TXT,
            font: { family: SANS, size: 16 },
            callback: (v: number) => (v === 0 ? '' : String(v)),
          },
        },
        y: {
          type: 'logarithmic', min: Y_MIN, max: Y_MAX,
          afterFit: (s: any) => { s.width = p.yAxisW; },
          grid: { display: false, drawTicks: false },
          border: { display: false },
          ticks: { display: false },
        },
      },
    },
    plugins: [makeDecor(p)],
  };
}

function Panel({ cfg }: { cfg: PanelCfg }) {
  const ref = useRef<HTMLCanvasElement>(null);
  useEffect(() => {
    const chart = new Chart(ref.current as HTMLCanvasElement, buildConfig(cfg));
    return () => chart.destroy();
  }, [cfg]);
  return (
    <canvas
      ref={ref}
      width={cfg.w}
      height={527}
      style={{ position: 'absolute', left: cfg.left, top: 0, width: cfg.w, height: 527, display: 'block' }}
    />
  );
}

export default function App() {
  return (
    <div style={{ position: 'absolute', left: 0, top: 0, width: 1315, height: 527, background: '#FFFFFF', overflow: 'hidden' }}>
      <Panel cfg={PANEL_A} />
      <Panel cfg={PANEL_B} />
    </div>
  );
}
